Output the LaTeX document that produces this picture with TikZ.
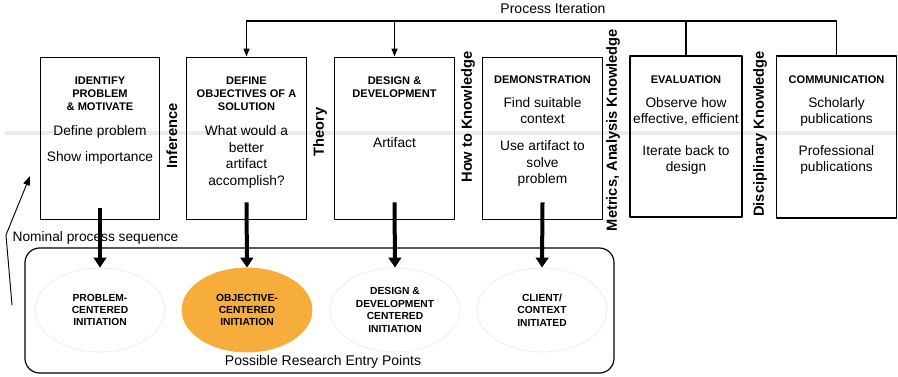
\documentclass[tikz,border=0pt]{standalone}
\usepackage{fontspec}
\setmainfont{Liberation Sans}
\usepackage{tikz}
\usetikzlibrary{arrows.meta,shapes.geometric,calc}
\definecolor{entryorange}{RGB}{246,173,60}
\definecolor{bandgray}{RGB}{236,236,236}

\begin{document}
\begin{tikzpicture}[x=0.75pt,y=-0.75pt,line cap=round,line join=round]
\tikzset{
    stage/.style={draw=black, line width=0.9pt, minimum width=89.5pt, minimum height=122pt, inner sep=0pt},
    stagetitle/.style={font=\fontsize{8.3}{9.8}\selectfont\bfseries, align=center, inner sep=0pt},
    stagetext/.style={font=\fontsize{10.3}{12.5}\selectfont, align=center, inner sep=0pt},
    vlabel/.style={font=\fontsize{11}{13}\selectfont\bfseries, rotate=90, inner sep=0pt},
    entrypt/.style={ellipse, draw=gray!15, line width=0.6pt, minimum width=97.5pt, minimum height=63pt, inner sep=0pt, align=center, font=\fontsize{7.7}{9.3}\selectfont\bfseries},
    iter/.style={line width=0.9pt},
    flow/.style={line width=3pt, line cap=butt, -{Triangle[length=7.5pt,width=9.5pt]}},
}
\useasboundingbox (0,0) rectangle (898,377);
% faint band
\draw[bandgray, line width=3pt, line cap=butt] (5,133) -- (898,133);

% process stages
\node[stage] (ident) at (100,138.5) {};
\node[stage] (define) at (246.5,138.5) {};
\node[stage] (design) at (394.5,138.5) {};
\node[stage] (demo) at (542.5,138.5) {};
\node[stage, minimum width=84pt, minimum height=120.75pt] (eval) at (686,136.5) {};
\node[stage, minimum height=121.5pt] (comm) at (836.5,137) {};

\node[stagetitle] (identt) at (100,94) {IDENTIFY\\PROBLEM\\\& MOTIVATE};
\node[stagetext] (identb) at (100,145) {Define problem\\[7pt]Show importance};
\node[stagetitle] (definet) at (246.5,94) {DEFINE\\OBJECTIVES OF A\\SOLUTION};
\node[stagetext] (defineb) at (246.5,157) {What would a\\better\\artifact\\accomplish?};
\node[stagetitle] (designt) at (394.5,87) {DESIGN \&\\DEVELOPMENT};
\node[stagetext] (designb) at (394.5,143) {Artifact};
\node[stagetitle] (demot) at (542.5,80) {DEMONSTRATION};
\node[stagetext] (demob) at (542.5,142) {Find suitable\\context\\[7.5pt]Use artifact to\\solve\\problem};
\node[stagetitle] (evalt) at (686,80) {EVALUATION};
\node[stagetext] (evalb) at (686,136) {Observe how\\effective, efficient\\[11pt]Iterate back to\\design};
\node[stagetitle] (commt) at (836.5,80) {COMMUNICATION};
\node[stagetext] (commb) at (836.5,136) {Scholarly\\publications\\[11pt]Professional\\publications};

% knowledge between stages
\node[vlabel] (infer) at (172,136) {Inference};
\node[vlabel] (theory) at (320,132) {Theory};
\node[vlabel] (howto) at (468,117) {How to Knowledge};
\node[vlabel] (metrics) at (613,130) {Metrics, Analysis Knowledge};
\node[vlabel] (discip) at (760,134) {Disciplinary Knowledge};

% process iteration
\coordinate (itl) at (246.5,21);
\draw[iter] (itl) -- (comm.north |- itl);
\draw[iter, -{Triangle[length=6pt,width=4.5pt]}] (itl) -- (define.north);
\draw[iter, -{Triangle[length=6pt,width=4.5pt]}] (design.north |- itl) -- (design.north);
\draw[iter] (eval.north |- itl) -- (eval.north);
\draw[iter] (comm.north |- itl) -- (comm.north);
\node[font=\fontsize{10.5}{12}\selectfont] (iterlbl) at (553,9) {Process Iteration};

% research entry points
\node[draw=black, line width=0.9pt, rounded corners=11pt, minimum width=441.75pt, minimum height=93.75pt] (entries) at (319.5,310.5) {};
\node[entrypt] (pci) at (100,310) {PROBLEM-\\CENTERED\\INITIATION};
\node[entrypt, fill=entryorange, draw=entryorange] (oci) at (247,310) {OBJECTIVE-\\CENTERED\\INITIATION};
\node[entrypt] (dci) at (395,310) {DESIGN \&\\DEVELOPMENT\\CENTERED\\INITIATION};
\node[entrypt] (cci) at (542,310) {CLIENT/\\CONTEXT\\INITIATED};
\node[font=\fontsize{10.5}{12}\selectfont] (entrylbl) at (323,362) {Possible Research Entry Points};

\draw[flow] ($(ident.south)+(0,-12)$) -- (pci.north);
\draw[flow] ($(define.south)+(0,-18)$) -- (oci.north);
\draw[flow] ($(design.south)+(0,-18)$) -- (dci.north);
\draw[flow] ($(demo.south)+(0,-18)$) -- (cci.north);

% nominal sequence
\coordinate (nom1) at (12,305);
\coordinate (nom2) at (6,235);
\coordinate (nom3) at (30,176);
\draw[line width=0.7pt, -{Triangle[length=7pt,width=5pt]}] (nom1) -- (nom2) -- (nom3);
\node[font=\fontsize{10.3}{12}\selectfont] (nomlbl) at (95.5,238) {Nominal process sequence};
\end{tikzpicture}
\end{document}
